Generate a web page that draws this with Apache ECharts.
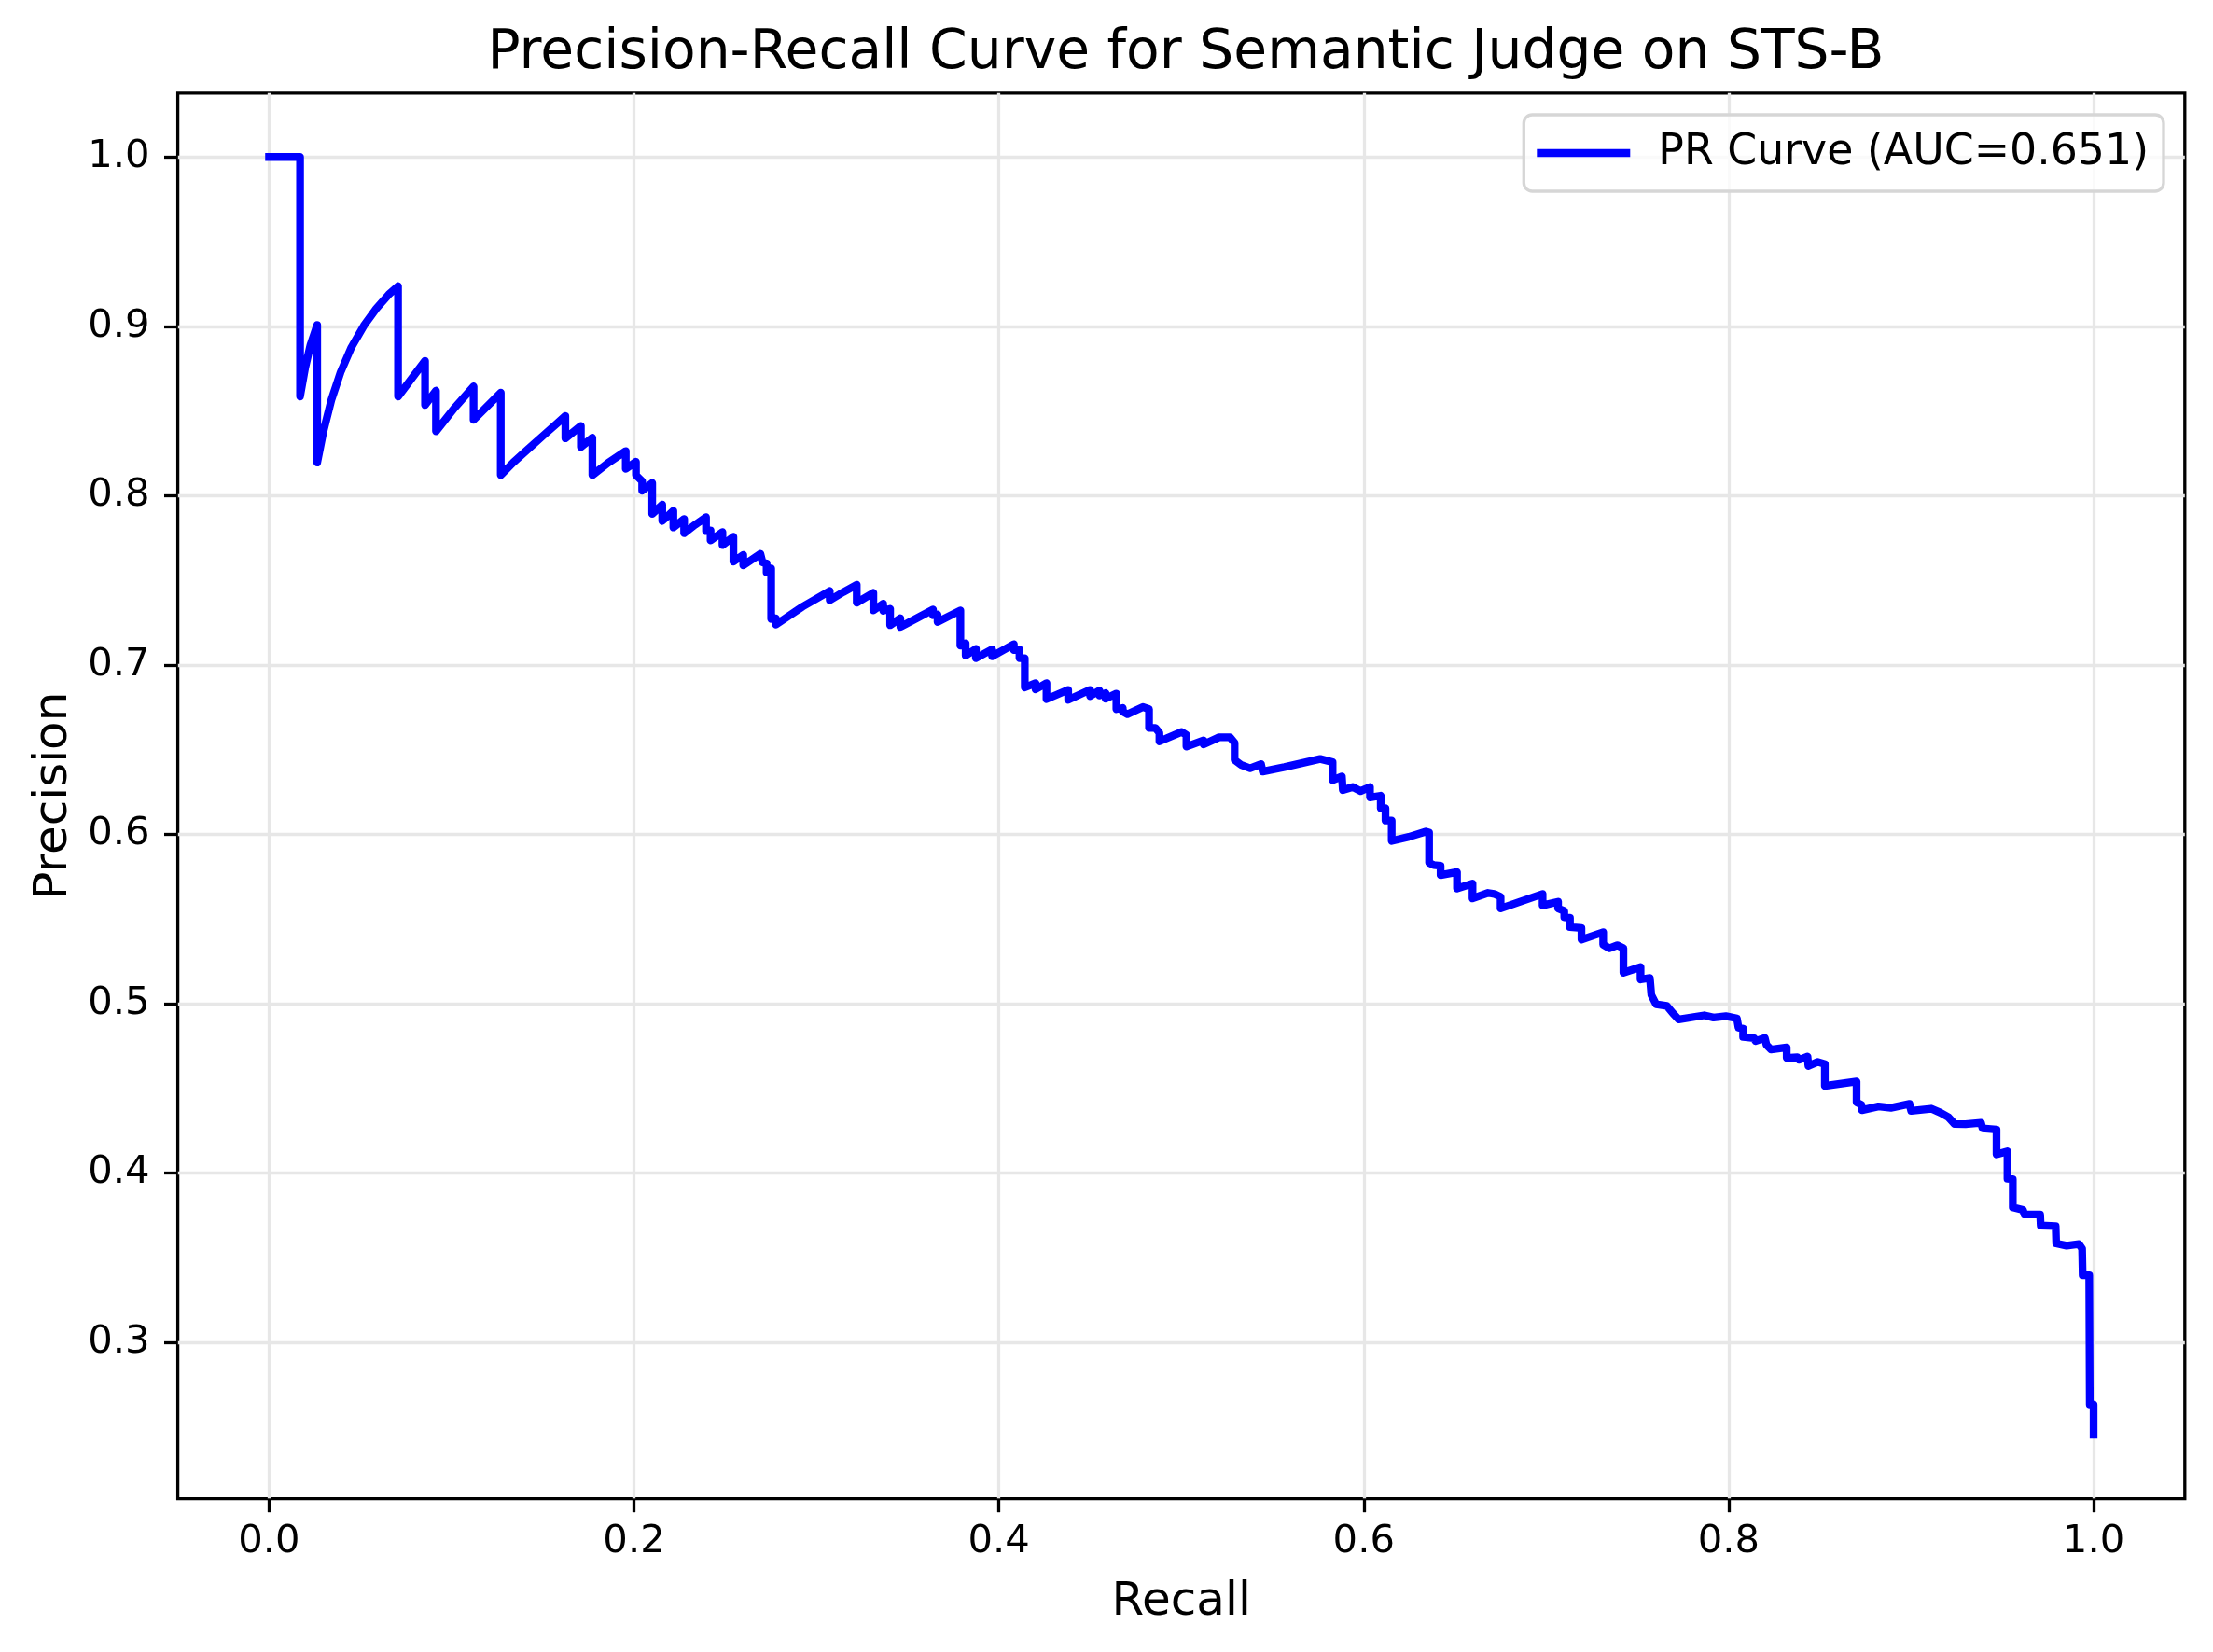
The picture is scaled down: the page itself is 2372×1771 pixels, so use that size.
<!DOCTYPE html>
<html>
<head>
<meta charset="utf-8">
<script src="https://cdn.jsdelivr.net/npm/echarts@6/dist/echarts.min.js"></script>
<style>
html,body{margin:0;padding:0;background:#fff;}
#chart{width:2372px;height:1771px;}
</style>
</head>
<body>
<div id="chart"></div>
<script>
const titleText = 'Precision-Recall Curve for Semantic Judge on STS-B';
const seriesName = 'PR Curve (AUC=0.651)';
const xTicks = [0.0, 0.2, 0.4, 0.6, 0.8, 1.0];
const yTicks = [0.3, 0.4, 0.5, 0.6, 0.7, 0.8, 0.9, 1.0];

const recall = [
0,0.0170,0.0170,0.0198,0.0227,0.0264,0.0264,0.0298,0.0341,0.0392,
0.0451,0.0520,0.0588,0.0656,0.0707,0.0707,0.0855,0.0855,0.0915,0.0915,
0.1018,0.1121,0.1121,0.1270,0.1270,0.1338,0.1423,0.1508,0.1577,0.1624,
0.1624,0.1709,0.1709,0.1772,0.1772,0.1860,0.1955,0.1955,0.2011,0.2011,
0.2045,0.2045,0.2100,0.2100,0.2155,0.2155,0.2216,0.2216,0.2275,0.2275,
0.2335,0.2395,0.2395,0.2420,0.2420,0.2485,0.2485,0.2545,0.2545,0.2599,
0.2599,0.2693,0.2705,0.2727,0.2727,0.2752,0.2752,0.2778,0.2778,0.2925,
0.3073,0.3073,0.3147,0.3221,0.3221,0.3312,0.3312,0.3366,0.3366,0.3404,
0.3404,0.3460,0.3460,0.3550,0.3639,0.3639,0.3664,0.3664,0.3789,0.3789,
0.3818,0.3818,0.3874,0.3874,0.3963,0.3963,0.4082,0.4082,0.4113,0.4113,
0.4142,0.4142,0.4201,0.4201,0.4261,0.4261,0.4380,0.4380,0.4500,0.4500,
0.4551,0.4551,0.4585,0.4585,0.4644,0.4644,0.4679,0.4679,0.4704,0.4789,
0.4789,0.4823,0.4823,0.4858,0.4880,0.4880,0.5002,0.5028,0.5028,0.5122,
0.5122,0.5207,0.5267,0.5292,0.5292,0.5326,0.5377,0.5437,0.5446,0.5565,
0.5761,0.5829,0.5829,0.5880,0.5885,0.5940,0.5982,0.6034,0.6034,0.6093,
0.6093,0.6119,0.6119,0.6153,0.6153,0.6247,0.6340,0.6358,0.6358,0.6383,
0.6421,0.6421,0.6511,0.6511,0.6596,0.6596,0.6681,0.6715,0.6750,0.6750,
0.6980,0.6980,0.7065,0.7065,0.7099,0.7099,0.7130,0.7130,0.7193,0.7193,
0.7312,0.7312,0.7346,0.7389,0.7423,0.7423,0.7517,0.7517,0.7568,0.7576,
0.7602,0.7661,0.7696,0.7726,0.7866,0.7917,0.7985,0.8045,0.8054,0.8054,
0.8079,0.8079,0.8139,0.8147,0.8198,0.8207,0.8232,0.8318,0.8318,0.8377,
0.8386,0.8432,0.8437,0.8488,0.8527,0.8527,0.8701,0.8701,0.8727,0.8730,
0.8821,0.8889,0.8991,0.9000,0.9110,0.9161,0.9204,0.9238,0.9298,0.9383,
0.9391,0.9468,0.9468,0.9528,0.9528,0.9557,0.9557,0.9613,0.9621,0.9707,
0.9710,0.9792,0.9795,0.9852,0.9920,0.9937,0.9940,0.9976,0.9979,1.0000,
1.0000
];
const precision = [
1.0,1.0,0.8585,0.8755,0.8890,0.9008,0.8195,0.8379,0.8563,0.8728,
0.8875,0.9004,0.9105,0.9188,0.9237,0.8585,0.8796,0.8535,0.8620,0.8380,
0.8520,0.8645,0.8447,0.8608,0.8121,0.8195,0.8278,0.8360,0.8425,0.8471,
0.8338,0.8412,0.8287,0.8342,0.8121,0.8195,0.8263,0.8158,0.8200,0.8121,
0.8085,0.8029,0.8075,0.7892,0.7947,0.7850,0.7910,0.7812,0.7862,0.7778,
0.7828,0.7873,0.7790,0.7795,0.7735,0.7785,0.7708,0.7757,0.7610,0.7650,
0.7588,0.7656,0.7605,0.7600,0.7545,0.7570,0.7272,0.7275,0.7238,0.7345,
0.7437,0.7382,0.7430,0.7474,0.7368,0.7426,0.7322,0.7362,0.7320,0.7331,
0.7235,0.7276,0.7224,0.7276,0.7327,0.7294,0.7298,0.7254,0.7322,0.7114,
0.7128,0.7055,0.7095,0.7040,0.7092,0.7051,0.7123,0.7088,0.7092,0.7040,
0.7040,0.6867,0.6893,0.6856,0.6893,0.6798,0.6853,0.6794,0.6853,0.6816,
0.6849,0.6820,0.6834,0.6801,0.6831,0.6739,0.6746,0.6724,0.6709,0.6752,
0.6742,0.6739,0.6628,0.6628,0.6599,0.6549,0.6605,0.6586,0.6518,0.6555,
0.6531,0.6573,0.6573,0.6540,0.6439,0.6411,0.6390,0.6415,0.6371,0.6397,
0.6445,0.6426,0.6320,0.6342,0.6261,0.6279,0.6255,0.6279,0.6218,0.6228,
0.6154,0.6154,0.6081,0.6081,0.5961,0.5985,0.6016,0.6011,0.5832,0.5819,
0.5814,0.5759,0.5777,0.5680,0.5709,0.5621,0.5654,0.5648,0.5630,0.5562,
0.5648,0.5580,0.5602,0.5562,0.5547,0.5510,0.5507,0.5452,0.5446,0.5378,
0.5422,0.5349,0.5327,0.5345,0.5327,0.5183,0.5216,0.5143,0.5152,0.5051,
0.4996,0.4987,0.4941,0.4907,0.4931,0.4918,0.4926,0.4913,0.4904,0.4858,
0.4852,0.4803,0.4797,0.4779,0.4797,0.4757,0.4729,0.4742,0.4680,0.4683,
0.4669,0.4687,0.4632,0.4656,0.4643,0.4514,0.4540,0.4417,0.4404,0.4371,
0.4393,0.4385,0.4408,0.4367,0.4380,0.4356,0.4330,0.4290,0.4288,0.4297,
0.4264,0.4257,0.4110,0.4128,0.3966,0.3963,0.3797,0.3782,0.3755,0.3755,
0.3690,0.3687,0.3584,0.3571,0.3580,0.3553,0.3396,0.3396,0.2633,0.2633,
0.2454
];

const curve = recall.map((r, i) => [r, precision[i]]);

const FONT = 'DejaVu Sans';
const chart = echarts.init(document.getElementById('chart'), null, {renderer: 'canvas'});
const tickStyle = {show: true, inside: false, length: 14.6, lineStyle: {color: '#000', width: 3.3}};
const gridLine = {show: true, lineStyle: {color: '#e7e7e7', width: 3.3}};

chart.setOption({
  animation: false,
  backgroundColor: '#ffffff',
  title: {
    text: titleText,
    left: 1266, textAlign: 'center',
    top: 24,
    textStyle: {fontFamily: FONT, fontSize: 58.3, fontWeight: 'normal', color: '#000'}
  },
  legend: {
    show: true,
    right: 53, top: 123,
    orient: 'horizontal',
    padding: [18, 16, 18, 14],
    icon: 'rect',
    itemWidth: 100, itemHeight: 8.3,
    backgroundColor: 'rgba(255,255,255,0.8)',
    borderColor: '#d6d6d6', borderWidth: 3.3, borderRadius: 9,
    textStyle: {fontFamily: FONT, fontSize: 45.8, color: '#000', padding: [0, 0, 0, 25]},
    data: [seriesName]
  },
  grid: {
    left: 190.6, right: 30.2, top: 99.8, bottom: 164.4,
    show: true, borderColor: '#000', borderWidth: 3.3, backgroundColor: 'transparent',
    containLabel: false
  },
  xAxis: {
    type: 'value', min: -0.05, max: 1.05,
    name: 'Recall', nameLocation: 'middle', nameGap: 86,
    nameTextStyle: {fontFamily: FONT, fontSize: 50, color: '#000'},
    axisLine: {show: false, onZero: false},
    axisTick: Object.assign({customValues: xTicks}, tickStyle),
    axisLabel: {customValues: xTicks, margin: 26, fontFamily: FONT, fontSize: 41.7, color: '#000',
      formatter: v => Number(v).toFixed(1)},
    splitLine: gridLine
  },
  yAxis: {
    type: 'value', min: 0.2077, max: 1.0377,
    name: 'Precision', nameLocation: 'middle', nameGap: 108, nameRotate: 90,
    nameTextStyle: {fontFamily: FONT, fontSize: 50, color: '#000'},
    axisLine: {show: false, onZero: false},
    axisTick: Object.assign({customValues: yTicks}, tickStyle),
    axisLabel: {customValues: yTicks, margin: 30, fontFamily: FONT, fontSize: 41.7, color: '#000',
      formatter: v => Number(v).toFixed(1)},
    splitLine: gridLine
  },
  series: [{
    name: seriesName,
    type: 'line',
    data: curve,
    showSymbol: false, symbol: 'none',
    color: '#0000ff',
    lineStyle: {color: '#0000ff', width: 8.3, cap: 'square', join: 'round'},
    itemStyle: {color: '#0000ff'},
    clip: true,
    z: 3
  }]
});
</script>
</body>
</html>
